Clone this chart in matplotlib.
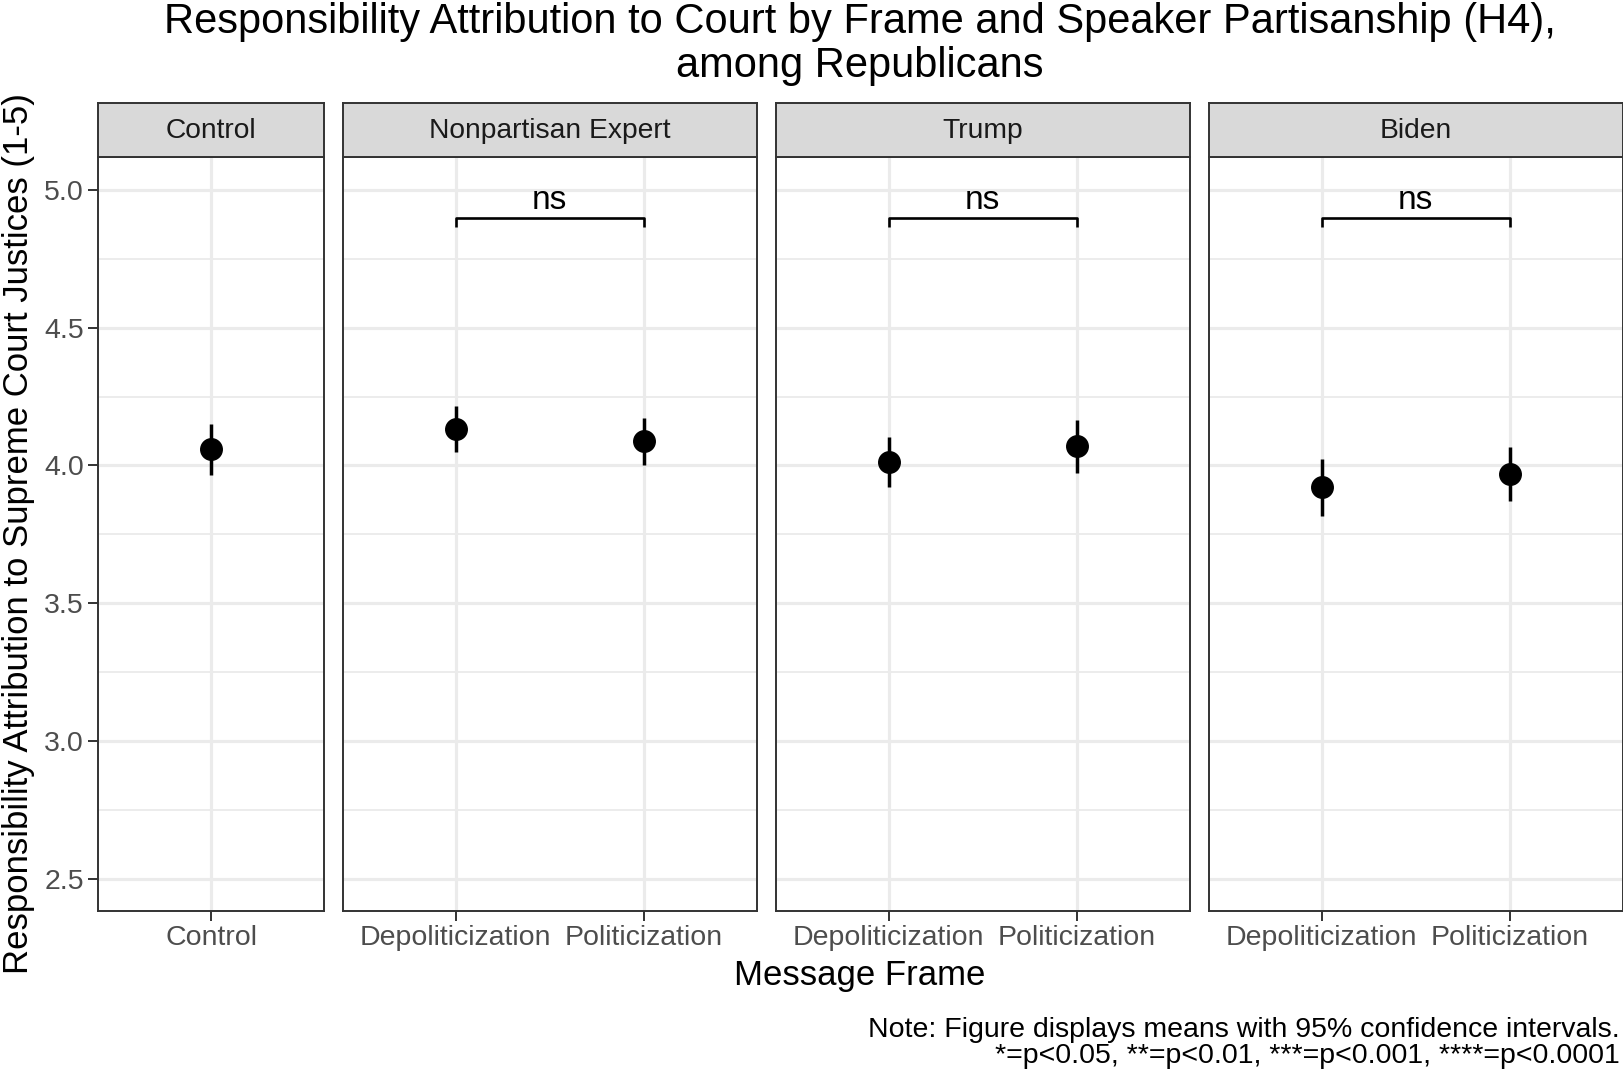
import numpy as np
import matplotlib.pyplot as plt
from matplotlib.gridspec import GridSpec

plt.rcParams['font.family'] = ['Liberation Sans', 'DejaVu Sans']

#-----------------------------------------------------------------------------------------------------------------------
# data
speakers = ["Control", "Nonpartisan Expert", "Trump", "Biden"]
frames = [["Control"],
          ["Depoliticization", "Politicization"],
          ["Depoliticization", "Politicization"],
          ["Depoliticization", "Politicization"]]
means = [[4.058], [4.131, 4.088], [4.012, 4.070], [3.921, 3.970]]
ci_low = [[3.967], [4.048, 4.000], [3.921, 3.973], [3.818, 3.870]]
ci_high = [[4.149], [4.216, 4.173], [4.103, 4.164], [4.022, 4.067]]
sig_labels = [None, "ns", "ns", "ns"]
bracket_y = 4.897
bracket_tip = 4.864

y_ticks = [2.5, 3.0, 3.5, 4.0, 4.5, 5.0]
y_minor = [2.75, 3.25, 3.75, 4.25, 4.75]

#-----------------------------------------------------------------------------------------------------------------------
W, H = 1624, 1071
fig = plt.figure(figsize=(W / 100, H / 100), dpi=100)

left, right = 98 / W, 1623 / W
top_strip, strip_bot, bottom = 1 - 103 / H, 1 - 157 / H, 1 - 911 / H

widths = [len(f) + 0.2 for f in frames]
gs = GridSpec(2, 4, figure=fig, left=left, right=right, top=top_strip, bottom=bottom,
              width_ratios=widths, height_ratios=[54, 754], hspace=0,
              wspace=18.5 / ((1525 - 55.5) / 4))

grid_col = '#EBEBEB'
border_col = '#333333'

for i, spk in enumerate(speakers):
    ax = fig.add_subplot(gs[1, i])
    sax = fig.add_subplot(gs[0, i])

    # strip
    sax.set_facecolor('#D9D9D9')
    sax.set_xticks([])
    sax.set_yticks([])
    for sp in sax.spines.values():
        sp.set_color(border_col)
        sp.set_linewidth(1.4)
    sax.text(0.5, 0.48, spk, transform=sax.transAxes, ha='center', va='center',
             fontsize=20.3, color='#1A1A1A')

    n = len(frames[i])
    x = np.arange(1, n + 1)
    ax.set_xlim(0.4, n + 0.6)
    ax.set_ylim(2.382, 5.12)

    for yv in y_minor:
        ax.axhline(yv, color=grid_col, lw=1.3, zorder=0)
    for yv in y_ticks:
        ax.axhline(yv, color=grid_col, lw=2.3, zorder=0)
    for xv in x:
        ax.axvline(xv, color=grid_col, lw=2.3, zorder=0)

    m = np.array(means[i])
    lo = np.array(ci_low[i])
    hi = np.array(ci_high[i])
    ax.vlines(x, lo, hi, color='black', lw=2.5, zorder=3)
    ax.plot(x, m, 'o', color='black', ms=15.5, zorder=4)

    if sig_labels[i]:
        ax.plot([1, 1, 2, 2], [bracket_tip, bracket_y, bracket_y, bracket_tip],
                color='black', lw=1.9, zorder=3, solid_capstyle='butt')
        ax.text(1.5, bracket_y + 0.008, sig_labels[i], ha='center', va='bottom',
                fontsize=24, color='black')

    ax.set_xticks(x)
    ax.set_xticklabels(frames[i])
    ax.set_yticks(y_ticks)
    ax.set_yticklabels(['%.1f' % v for v in y_ticks])
    ax.tick_params(axis='both', labelsize=20.5, labelcolor='#4D4D4D', color=border_col,
                   length=7, width=1.4, pad=3)
    if i > 0:
        ax.tick_params(axis='y', left=False, labelleft=False)
    for sp in ax.spines.values():
        sp.set_color(border_col)
        sp.set_linewidth(1.4)

# titles
fig.text(860 / W, 1 - 2 / H,
         "Responsibility Attribution to Court by Frame and Speaker Partisanship (H4),\namong Republicans",
         ha='center', va='top', fontsize=30, linespacing=1.12)
fig.text(860 / W, 1 - 976 / H, "Message Frame", ha='center', va='center', fontsize=25)
fig.text(19 / W, 1 - 534 / H, "Responsibility Attribution to Supreme Court Justices (1-5)",
         ha='center', va='center', rotation=90, fontsize=25)
fig.text(1620 / W, 1 - 1069 / H,
         "Note: Figure displays means with 95% confidence intervals.\n*=p<0.05, **=p<0.01, ***=p<0.001, ****=p<0.0001",
         ha='right', va='bottom', fontsize=20.5, linespacing=1.02)

fig.savefig('out.png', dpi=100)
